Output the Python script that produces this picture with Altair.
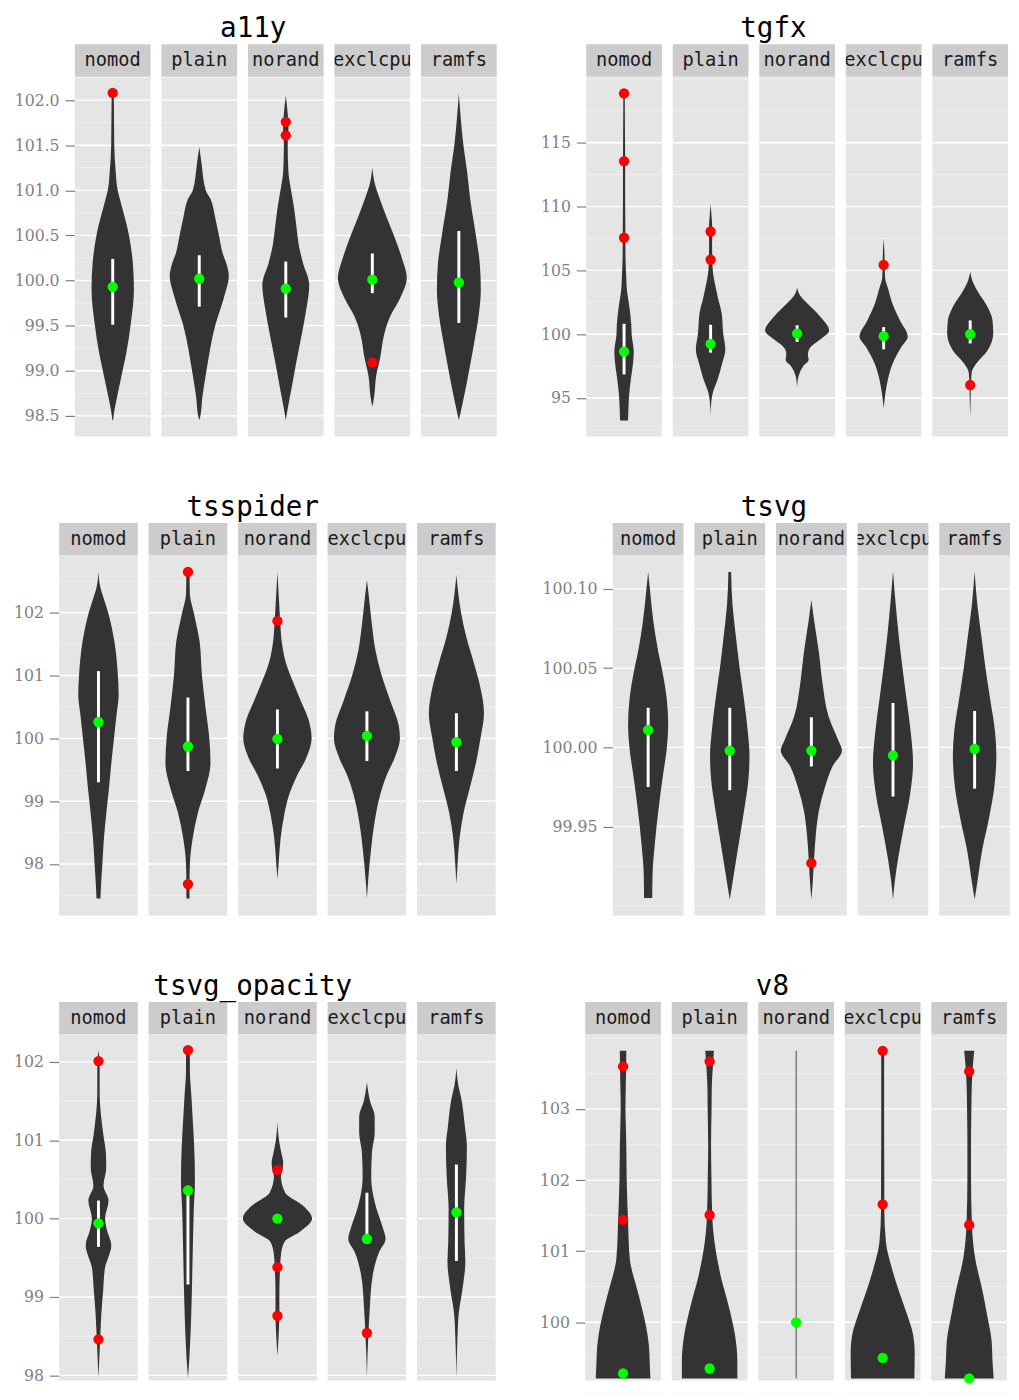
import altair as alt
import pandas as pd

VARIANTS = ["nomod", "plain", "norand", "exclcpu", "ramfs"]

# ---------------- a11y ----------------
A11Y_NOMOD = [(102.08, 0.02), (102.0, 0.03), (101.5, 0.04), (101.2, 0.08), (101.0, 0.13), (100.9, 0.19),
              (100.5, 0.43), (100.2, 0.53), (99.9, 0.56), (99.5, 0.47), (99.2, 0.36), (99.0, 0.26),
              (98.72, 0.12), (98.55, 0.04), (98.45, 0.01)]
A11Y_PLAIN = [(101.48, 0.0), (101.3, 0.06), (101.0, 0.17), (100.9, 0.3), (100.7, 0.42), (100.5, 0.52),
              (100.3, 0.62), (100.17, 0.73), (100.05, 0.78), (99.81, 0.65), (99.5, 0.42), (99.0, 0.19),
              (98.7, 0.08), (98.5, 0.03), (98.45, 0.0)]
A11Y_NORAND = [(102.05, 0.0), (101.9, 0.04), (101.7, 0.07), (101.5, 0.05), (101.2, 0.07), (101.0, 0.14),
               (100.8, 0.22), (100.6, 0.28), (100.4, 0.34), (100.2, 0.45), (99.95, 0.62), (99.7, 0.55),
               (99.4, 0.42), (99.1, 0.28), (98.8, 0.15), (98.6, 0.06), (98.45, 0.0)]
A11Y_EXCLCPU = [(101.25, 0.0), (101.1, 0.05), (100.9, 0.2), (100.7, 0.38), (100.5, 0.57), (100.25, 0.78),
                (100.03, 0.91), (99.8, 0.73), (99.6, 0.47), (99.4, 0.31), (99.15, 0.21), (98.94, 0.1),
                (98.72, 0.05), (98.6, 0.0)]
A11Y_RAMFS = [(102.07, 0.0), (101.8, 0.05), (101.5, 0.12), (101.2, 0.22), (100.9, 0.3), (100.5, 0.45),
              (100.2, 0.55), (99.9, 0.58), (99.6, 0.52), (99.3, 0.4), (99.0, 0.27), (98.7, 0.13), (98.45, 0.0)]
A11Y_MEDIAN = [99.93, 100.02, 99.91, 100.01, 99.98]
A11Y_LO = [99.51, 99.71, 99.59, 99.86, 99.53]
A11Y_HI = [100.24, 100.28, 100.21, 100.3, 100.55]
A11Y_OUT = [("nomod", 102.08), ("norand", 101.76), ("norand", 101.61), ("exclcpu", 99.09)]
A11Y_MAJOR = [98.5, 99.0, 99.5, 100.0, 100.5, 101.0, 101.5, 102.0]
A11Y_MINOR = [98.75, 99.25, 99.75, 100.25, 100.75, 101.25, 101.75, 102.25]

# ---------------- tgfx ----------------
TGFX_NOMOD = [(118.87, 0.02), (116.0, 0.025), (113.5, 0.03), (111.0, 0.03), (108.5, 0.035), (106.0, 0.04),
              (104.5, 0.06), (103.6, 0.075), (102.1, 0.15), (100.8, 0.2), (100.0, 0.21), (98.6, 0.27),
              (97.5, 0.24), (96.7, 0.2), (95.2, 0.14), (94.0, 0.12), (93.25, 0.11)]
TGFX_PLAIN = [(110.2, 0.0), (109.5, 0.02), (108.0, 0.05), (107.0, 0.04), (105.9, 0.05), (105.0, 0.06),
              (104.4, 0.09), (103.7, 0.14), (102.9, 0.2), (101.6, 0.31), (100.05, 0.35), (98.8, 0.41),
              (97.7, 0.32), (96.5, 0.2), (95.4, 0.06), (94.7, 0.02), (93.6, 0.0)]
TGFX_NORAND = [(103.65, 0.0), (103.2, 0.05), (102.9, 0.12), (102.1, 0.4), (101.3, 0.67), (100.3, 0.89),
               (99.54, 0.62), (98.9, 0.35), (98.4, 0.3), (98.0, 0.32), (97.5, 0.17), (96.7, 0.04), (95.8, 0.0)]
TGFX_EXCLCPU = [(107.48, 0.0), (106.5, 0.02), (105.4, 0.03), (104.4, 0.04), (103.6, 0.12), (102.35, 0.25),
                (101.1, 0.45), (99.8, 0.67), (99.0, 0.49), (97.7, 0.25), (96.5, 0.12), (95.2, 0.04), (94.2, 0.0)]
TGFX_RAMFS = [(104.9, 0.0), (104.2, 0.06), (103.4, 0.2), (102.1, 0.49), (101.1, 0.62), (100.05, 0.64),
              (98.77, 0.49), (97.7, 0.17), (97.0, 0.04), (96.0, 0.02), (95.2, 0.015), (93.6, 0.0)]
TGFX_MEDIAN = [98.64, 99.25, 100.05, 99.85, 100.0]
TGFX_LO = [96.85, 98.56, 99.4, 98.82, 99.28]
TGFX_HI = [100.82, 100.74, 100.7, 100.56, 101.08]
TGFX_OUT = [("nomod", 118.87), ("nomod", 113.56), ("nomod", 107.56), ("plain", 108.05), ("plain", 105.85),
            ("exclcpu", 105.43), ("ramfs", 96.02)]
TGFX_MAJOR = [95, 100, 105, 110, 115]
TGFX_MINOR = [92.5, 97.5, 102.5, 107.5, 112.5, 117.5, 120.0]

# ---------------- tsspider ----------------
TSSPIDER_NOMOD = [(102.65, 0.0), (102.4, 0.05), (102.2, 0.15), (102.0, 0.25), (101.54, 0.41), (101.0, 0.5),
                  (100.7, 0.52), (100.4, 0.47), (100.0, 0.4), (99.6, 0.33), (99.2, 0.27), (98.8, 0.2),
                  (98.4, 0.14), (98.0, 0.1), (97.7, 0.07), (97.45, 0.05)]
TSSPIDER_PLAIN = [(102.65, 0.04), (102.3, 0.05), (102.0, 0.15), (101.54, 0.3), (101.0, 0.36), (100.5, 0.45),
                  (100.0, 0.55), (99.6, 0.58), (99.2, 0.45), (98.8, 0.25), (98.4, 0.12), (98.0, 0.05),
                  (97.68, 0.04), (97.45, 0.04)]
TSSPIDER_NORAND = [(102.65, 0.0), (102.2, 0.04), (101.87, 0.07), (101.5, 0.12), (101.2, 0.22), (100.9, 0.4),
                   (100.6, 0.6), (100.3, 0.8), (100.0, 0.88), (99.7, 0.75), (99.4, 0.5), (99.1, 0.3),
                   (98.8, 0.18), (98.4, 0.08), (98.0, 0.03), (97.76, 0.0)]
TSSPIDER_EXCLCPU = [(102.52, 0.0), (102.2, 0.06), (101.8, 0.13), (101.4, 0.22), (101.0, 0.38), (100.6, 0.6),
                    (100.2, 0.82), (100.0, 0.85), (99.7, 0.72), (99.4, 0.5), (99.0, 0.3), (98.6, 0.18),
                    (98.2, 0.1), (97.8, 0.04), (97.45, 0.0)]
TSSPIDER_RAMFS = [(102.6, 0.0), (102.3, 0.05), (102.0, 0.12), (101.6, 0.26), (101.2, 0.45), (100.8, 0.62),
                  (100.4, 0.71), (100.0, 0.62), (99.6, 0.5), (99.2, 0.34), (98.8, 0.18), (98.4, 0.08),
                  (98.0, 0.03), (97.68, 0.0)]
TSSPIDER_MEDIAN = [100.26, 99.87, 99.99, 100.04, 99.94]
TSSPIDER_LO = [99.3, 99.48, 99.52, 99.64, 99.48]
TSSPIDER_HI = [101.07, 100.65, 100.46, 100.43, 100.4]
TSSPIDER_OUT = [("plain", 102.65), ("plain", 97.68), ("norand", 101.87)]
TSSPIDER_MAJOR = [98, 99, 100, 101, 102]
TSSPIDER_MINOR = [97.5, 98.5, 99.5, 100.5, 101.5, 102.5]

# ---------------- tsvg ----------------
TSVG_NOMOD = [(100.1107, 0.0), (100.10, 0.05), (100.08, 0.15), (100.06, 0.3), (100.05, 0.4), (100.03, 0.55),
              (100.015, 0.59), (100.0, 0.55), (99.98, 0.42), (99.96, 0.3), (99.94, 0.2), (99.92, 0.13),
              (99.905, 0.12)]
TSVG_PLAIN = [(100.1107, 0.04), (100.09, 0.08), (100.07, 0.18), (100.05, 0.29), (100.03, 0.42), (100.01, 0.53),
              (99.995, 0.58), (99.98, 0.55), (99.96, 0.42), (99.94, 0.27), (99.92, 0.12), (99.904, 0.0)]
TSVG_NORAND = [(100.093, 0.0), (100.08, 0.08), (100.06, 0.22), (100.04, 0.33), (100.02, 0.5), (100.005, 0.78),
               (99.998, 0.9), (99.988, 0.62), (99.975, 0.4), (99.96, 0.22), (99.945, 0.13), (99.93, 0.08),
               (99.915, 0.04), (99.904, 0.0)]
TSVG_EXCLCPU = [(100.111, 0.0), (100.09, 0.08), (100.07, 0.17), (100.05, 0.28), (100.03, 0.4), (100.01, 0.52),
                (99.99, 0.59), (99.97, 0.5), (99.95, 0.32), (99.93, 0.15), (99.915, 0.05), (99.904, 0.0)]
TSVG_RAMFS = [(100.111, 0.0), (100.09, 0.08), (100.07, 0.2), (100.05, 0.32), (100.03, 0.46), (100.01, 0.6),
              (99.995, 0.64), (99.975, 0.58), (99.955, 0.42), (99.935, 0.22), (99.915, 0.08), (99.904, 0.0)]
TSVG_MEDIAN = [100.011, 99.998, 99.998, 99.995, 99.999]
TSVG_LO = [99.975, 99.973, 99.988, 99.969, 99.974]
TSVG_HI = [100.025, 100.025, 100.019, 100.028, 100.023]
TSVG_OUT = [("norand", 99.927)]
TSVG_MAJOR = [99.95, 100.0, 100.05, 100.10]
TSVG_MINOR = [99.9, 99.925, 99.975, 100.025, 100.075]

# ---------------- tsvg_opacity ----------------
TSVGOP_NOMOD = [(102.14, 0.0), (102.0, 0.03), (101.6, 0.03), (101.34, 0.06), (101.09, 0.12), (100.84, 0.19),
                (100.65, 0.2), (100.42, 0.13), (100.23, 0.26), (100.0, 0.17), (99.85, 0.22), (99.66, 0.33),
                (99.5, 0.25), (99.38, 0.17), (99.08, 0.12), (98.79, 0.075), (98.54, 0.05), (98.25, 0.025),
                (97.97, 0.0)]
TSVGOP_PLAIN = [(102.15, 0.05), (101.9, 0.05), (101.55, 0.09), (101.2, 0.13), (100.92, 0.16), (100.5, 0.18),
                (100.12, 0.15), (99.5, 0.12), (98.87, 0.09), (98.25, 0.04), (97.97, 0.0)]
TSVGOP_NORAND = [(101.23, 0.0), (101.0, 0.04), (100.84, 0.1), (100.71, 0.15), (100.6, 0.12), (100.54, 0.09),
                 (100.33, 0.2), (100.16, 0.67), (100.0, 0.89), (99.83, 0.57), (99.71, 0.19), (99.54, 0.09),
                 (99.38, 0.07), (99.08, 0.05), (98.77, 0.05), (98.5, 0.03), (98.25, 0.0)]
TSVGOP_EXCLCPU = [(101.74, 0.0), (101.5, 0.08), (101.3, 0.2), (101.1, 0.2), (100.85, 0.13), (100.54, 0.11),
                  (100.3, 0.16), (100.12, 0.25), (99.9, 0.4), (99.74, 0.48), (99.58, 0.32), (99.28, 0.15),
                  (98.87, 0.075), (98.54, 0.04), (98.25, 0.015), (97.97, 0.0)]
TSVGOP_RAMFS = [(101.92, 0.0), (101.7, 0.05), (101.55, 0.12), (101.17, 0.22), (100.92, 0.27), (100.54, 0.25),
                (100.12, 0.2), (99.7, 0.21), (99.45, 0.23), (99.08, 0.15), (98.79, 0.06), (98.45, 0.025),
                (97.97, 0.0)]
TSVGOP_MEDIAN = [99.94, 100.36, 100.0, 99.74, 100.08]
TSVGOP_LO = [99.64, 99.16, 99.98, 99.74, 99.46]
TSVGOP_HI = [100.23, 100.42, 100.02, 100.33, 100.69]
TSVGOP_OUT = [("nomod", 102.01), ("nomod", 98.46), ("plain", 102.15), ("norand", 100.62), ("norand", 99.38),
              ("norand", 98.76), ("exclcpu", 98.54)]
TSVGOP_MAJOR = [98, 99, 100, 101, 102]
TSVGOP_MINOR = [98.5, 99.5, 100.5, 101.5]

# ---------------- v8 ----------------
V8_NOMOD = [(103.82, 0.09), (103.6, 0.085), (103.3, 0.075), (103.02, 0.066), (102.7, 0.08), (102.47, 0.09),
            (102.01, 0.1), (101.46, 0.135), (100.9, 0.185), (100.7, 0.26), (100.54, 0.35), (100.21, 0.52),
            (99.94, 0.64), (99.66, 0.72), (99.43, 0.74), (99.21, 0.76)]
V8_PLAIN = [(103.82, 0.12), (103.6, 0.09), (103.3, 0.06), (103.02, 0.055), (102.5, 0.04), (102.06, 0.05),
            (101.46, 0.075), (101.13, 0.135), (100.67, 0.3), (100.21, 0.54), (99.84, 0.7), (99.47, 0.77),
            (99.21, 0.77)]
V8_NORAND = [(103.82, 0.012), (99.21, 0.012)]
V8_EXCLCPU = [(103.82, 0.04), (103.3, 0.04), (102.6, 0.04), (102.06, 0.045), (101.6, 0.045), (101.13, 0.09),
              (100.77, 0.25), (100.44, 0.45), (100.12, 0.67), (99.84, 0.84), (99.57, 0.89), (99.21, 0.88)]
V8_RAMFS = [(103.82, 0.14), (103.6, 0.1), (103.3, 0.07), (103.0, 0.06), (102.5, 0.05), (102.06, 0.05),
            (101.37, 0.075), (100.9, 0.165), (100.44, 0.37), (100.12, 0.49), (99.75, 0.62), (99.43, 0.65),
            (99.21, 0.68)]
V8_MEDIAN = [99.28, 99.35, 100.0, 99.5, 99.21]
V8_OUT = [("nomod", 103.6), ("nomod", 101.44), ("plain", 103.67), ("plain", 101.51), ("exclcpu", 103.82),
          ("exclcpu", 101.66), ("ramfs", 103.53), ("ramfs", 101.37)]
V8_MAJOR = [100, 101, 102, 103]
V8_MINOR = [99.0, 99.5, 100.5, 101.5, 102.5, 103.5, 104.0]

# ---------------- styling ----------------
PANEL_BG = "#E5E5E5"
STRIP_BG = "#CCCCCC"
VIOLIN = "#333333"
STRIP_H = 33


def build_panel(name, profiles, median, lo, hi, outs, major, minor, domain, width, xr, ext, fmt, height):
    ysc = alt.Scale(domain=domain, nice=False, zero=False)
    xsc = alt.Scale(domain=[-xr, xr], nice=False, zero=False)
    cols = []
    for i, variant in enumerate(VARIANTS):
        if i == 0:
            axis = alt.Axis(values=major, format=fmt, grid=False, domain=False, ticks=True,
                            tickColor="#7F7F7F", tickSize=10, tickWidth=1.2,
                            labelFont="DejaVu Serif", labelFontSize=16, labelColor="#7F7F7F",
                            labelPadding=6, minExtent=ext, maxExtent=ext, title=None)
        else:
            axis = None

        def Y(field="y"):
            return alt.Y(f"{field}:Q", scale=ysc, axis=axis, title=None)

        xs = alt.X("x:Q", scale=xsc, axis=None)
        layers = [
            alt.Chart(pd.DataFrame({"y": minor})).mark_rule(color="#F2F2F2", strokeWidth=0.8).encode(y=Y()),
            alt.Chart(pd.DataFrame({"y": major})).mark_rule(color="#FFFFFF", strokeWidth=1.4).encode(y=Y()),
        ]
        prof = pd.DataFrame(profiles[i], columns=["y", "w"]).sort_values("y")
        prof["lo"] = -prof["w"]
        prof["hi"] = prof["w"]
        layers.append(
            alt.Chart(prof).mark_area(orient="horizontal", interpolate="monotone", color=VIOLIN, opacity=1)
            .encode(y=Y(), x=alt.X("lo:Q", scale=xsc, axis=None), x2="hi:Q")
        )
        if lo is not None:
            layers.append(
                alt.Chart(pd.DataFrame({"x": [0], "y": [lo[i]], "y2": [hi[i]]}))
                .mark_rule(color="#FFFFFF", strokeWidth=3)
                .encode(x=xs, y=Y(), y2="y2:Q")
            )
        ov = [v for (k, v) in outs if k == variant]
        if ov:
            layers.append(
                alt.Chart(pd.DataFrame({"x": [0] * len(ov), "y": ov}))
                .mark_circle(color="#FF0000", size=110, opacity=1)
                .encode(x=xs, y=Y())
            )
        layers.append(
            alt.Chart(pd.DataFrame({"x": [0], "y": [median[i]]}))
            .mark_circle(color="#00FF00", size=110, opacity=1)
            .encode(x=xs, y=Y())
        )
        plot = alt.layer(*layers).properties(width=width, height=height)
        strip = (
            alt.Chart(pd.DataFrame({"v": [variant]}))
            .mark_text(font="DejaVu Sans Mono", fontSize=19, color="#1A1A1A", clip=True)
            .encode(text="v:N")
            .properties(width=width, height=STRIP_H,
                        view=alt.ViewBackground(fill=STRIP_BG, stroke=None))
        )
        cols.append(alt.vconcat(strip, plot, spacing=0))
    return alt.hconcat(*cols, spacing=9).properties(
        title=alt.TitleParams(text=name, font="DejaVu Sans Mono", fontSize=28, fontWeight="normal",
                              color="#000000", anchor="middle", offset=1)
    )


def spacer():
    return (
        alt.Chart(pd.DataFrame({"s": [0]}))
        .mark_point(opacity=0, size=0, strokeWidth=0, filled=True)
        .properties(width=1, height=1, view=alt.ViewBackground(fill="#FFFFFF", stroke=None))
    )


p_a11y = build_panel("a11y", [A11Y_NOMOD, A11Y_PLAIN, A11Y_NORAND, A11Y_EXCLCPU, A11Y_RAMFS],
                     A11Y_MEDIAN, A11Y_LO, A11Y_HI, A11Y_OUT, A11Y_MAJOR, A11Y_MINOR,
                     [98.27, 102.26], 77, 1.0, 67, ".1f", 366)
p_tgfx = build_panel("tgfx", [TGFX_NOMOD, TGFX_PLAIN, TGFX_NORAND, TGFX_EXCLCPU, TGFX_RAMFS],
                     TGFX_MEDIAN, TGFX_LO, TGFX_HI, TGFX_OUT, TGFX_MAJOR, TGFX_MINOR,
                     [91.98, 120.18], 77, 81 / 77, 49, "d", 366)
p_tsspider = build_panel("tsspider", [TSSPIDER_NOMOD, TSSPIDER_PLAIN, TSSPIDER_NORAND, TSSPIDER_EXCLCPU,
                                      TSSPIDER_RAMFS],
                         TSSPIDER_MEDIAN, TSSPIDER_LO, TSSPIDER_HI, TSSPIDER_OUT, TSSPIDER_MAJOR,
                         TSSPIDER_MINOR, [97.18, 102.91], 80, 81 / 80, 51, "d", 366)
p_tsvg = build_panel("tsvg", [TSVG_NOMOD, TSVG_PLAIN, TSVG_NORAND, TSVG_EXCLCPU, TSVG_RAMFS],
                     TSVG_MEDIAN, TSVG_LO, TSVG_HI, TSVG_OUT, TSVG_MAJOR, TSVG_MINOR,
                     [99.894, 100.121], 72, 75 / 72, 77, ".2f", 366)
p_tsvgop = build_panel("tsvg_opacity", [TSVGOP_NOMOD, TSVGOP_PLAIN, TSVGOP_NORAND, TSVGOP_EXCLCPU,
                                        TSVGOP_RAMFS],
                       TSVGOP_MEDIAN, TSVGOP_LO, TSVGOP_HI, TSVGOP_OUT, TSVGOP_MAJOR, TSVGOP_MINOR,
                       [97.933, 102.35], 80, 81 / 80, 51, "d", 352)
p_v8 = build_panel("v8", [V8_NOMOD, V8_PLAIN, V8_NORAND, V8_EXCLCPU, V8_RAMFS],
                   V8_MEDIAN, None, None, V8_OUT, V8_MAJOR, V8_MINOR,
                   [99.18, 104.05], 77, 81 / 77, 49, "d", 352)


def row(left, right):
    return alt.hconcat(alt.hconcat(spacer(), left, spacing=0), right, spacing=41)


chart = (
    alt.vconcat(
        row(p_a11y, p_tgfx),
        row(p_tsspider, p_tsvg),
        row(p_tsvgop, p_v8),
        spacing=59,
    )
    .properties(padding={"left": 0, "top": -4, "right": 0, "bottom": 0})
    .configure_view(stroke=None, fill=PANEL_BG)
)

chart.save("out.html", embed_options={"renderer": "svg", "actions": False})
